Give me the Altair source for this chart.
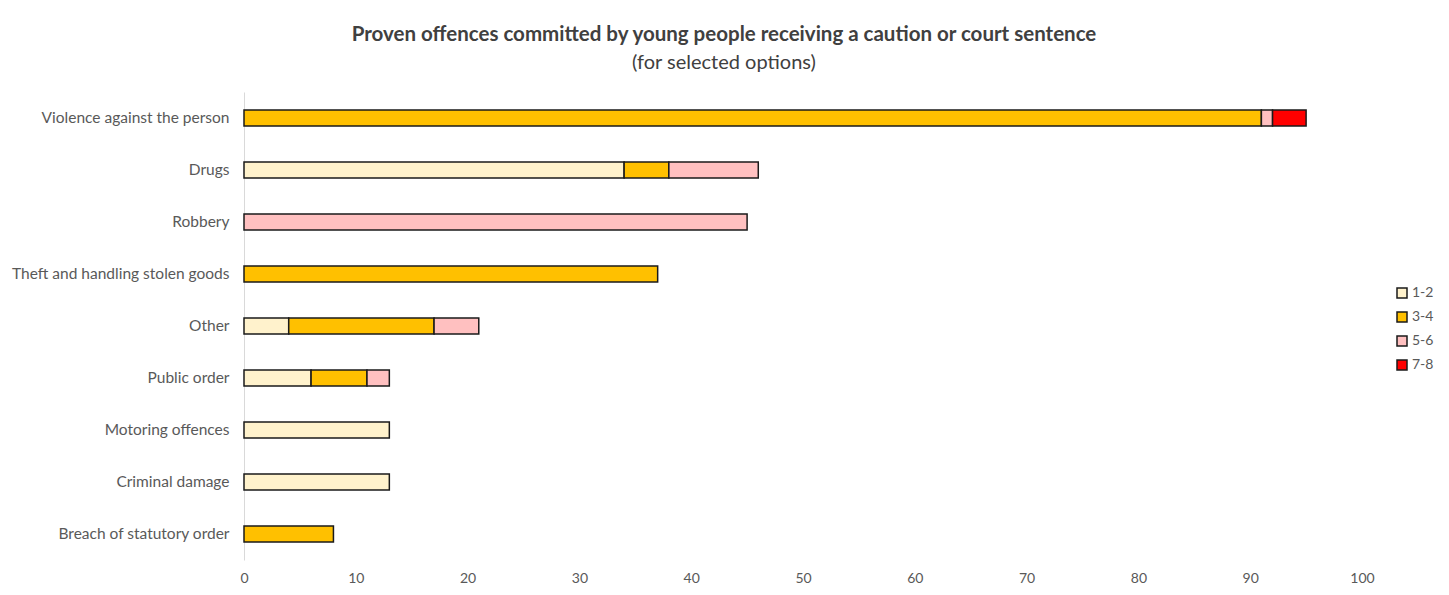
import altair as alt
import pandas as pd

categories = ["Violence against the person", "Drugs", "Robbery", "Theft and handling stolen goods",
              "Other", "Public order", "Motoring offences", "Criminal damage", "Breach of statutory order"]
series_names = ["1-2", "3-4", "5-6", "7-8"]
s_1_2 = [0, 34, 0, 0, 4, 6, 13, 13, 0]
s_3_4 = [91, 4, 0, 37, 13, 5, 0, 0, 8]
s_5_6 = [1, 8, 45, 0, 4, 2, 0, 0, 0]
s_7_8 = [3, 0, 0, 0, 0, 0, 0, 0, 0]
colors = ["#FFF2CC", "#FFC000", "#FFC0C0", "#FF0000"]
x_ticks = [0, 10, 20, 30, 40, 50, 60, 70, 80, 90, 100]

rows = []
for si, (name, vals) in enumerate(zip(series_names, [s_1_2, s_3_4, s_5_6, s_7_8])):
    for c, v in zip(categories, vals):
        if v > 0:
            rows.append({"category": c, "series": name, "value": v, "ord": si})
df = pd.DataFrame(rows)

FONT = "Lato"
TXT = "#595959"

chart = alt.Chart(df).mark_bar(stroke="#1a1a1a", strokeWidth=1.5, size=16).encode(
    y=alt.Y("category:N", sort=categories, title=None,
            scale=alt.Scale(paddingInner=0.69, paddingOuter=0.345),
            axis=alt.Axis(domainColor="#d9d9d9", domainWidth=1, ticks=False, labelPadding=15,
                          labelFontSize=15.5, labelColor=TXT, labelFont=FONT, grid=False,
                          labelLimit=400)),
    x=alt.X("value:Q", stack="zero", title=None,
            scale=alt.Scale(domain=[0, 100], nice=False),
            axis=alt.Axis(values=x_ticks, domain=False, ticks=False, grid=False, labelPadding=11,
                          labelFontSize=14, labelColor=TXT, labelFont=FONT, labelFlush=False)),
    color=alt.Color("series:N", scale=alt.Scale(domain=series_names, range=colors),
                    legend=alt.Legend(title=None, orient="none", legendX=1151, legendY=194,
                                      symbolType="square", symbolSize=100, symbolStrokeColor="#1a1a1a",
                                      symbolStrokeWidth=1.5, labelFontSize=14, labelColor=TXT,
                                      labelFont=FONT, rowPadding=8, labelOffset=3)),
    order=alt.Order("ord:Q"),
).properties(
    width=1118, height=468,
    title=alt.TitleParams(
        text="Proven offences committed by young people receiving a caution or court sentence",
        subtitle="(for selected options)",
        anchor="middle", dx=-79, offset=19,
        font=FONT, fontSize=20.5, fontWeight="bold", color="#404040",
        subtitleFont=FONT, subtitleFontSize=20, subtitleColor="#404040", subtitlePadding=8),
    autosize=alt.AutoSizeParams(type="none"),
    padding={"left": 244, "top": 92, "right": 87, "bottom": 35},
    background="white",
).configure_view(stroke=None)

chart.save("out.html", embed_options={"renderer": "svg", "actions": False})
